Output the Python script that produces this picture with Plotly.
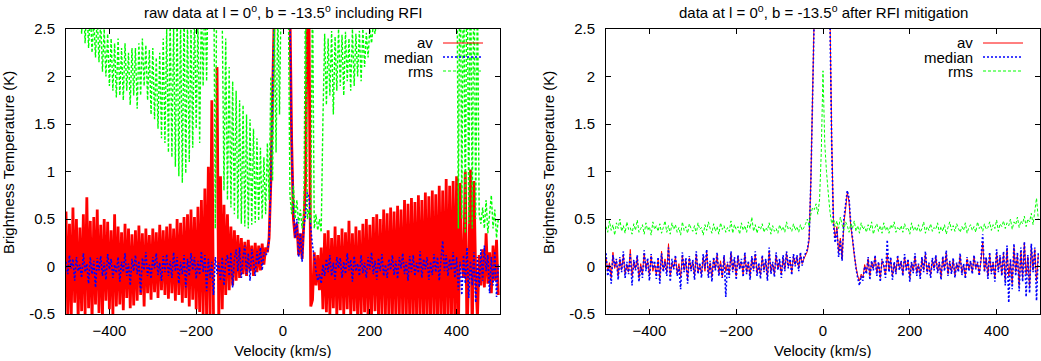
import plotly.graph_objects as go

# channel velocities (km/s), 4 km/s spacing
velocity = list(range(-500, 500, 4))

# raw spectrum incl. RFI
raw_av = [
    0.58, -0.52, 0.45, -0.55, 0.62, -0.38, 0.5, -0.56, 0.41, -0.47,
    0.55, -0.5, 0.73, -0.44, 0.48, -0.58, 0.52, -0.4, 0.6, -0.49,
    0.44, -0.52, 0.5, -0.36, 0.47, -0.45, 0.38, -0.5, 0.55, -0.42,
    0.42, -0.4, 0.36, -0.46, 0.45, -0.33, 0.4, -0.44, 0.34, -0.41,
    0.38, -0.36, 0.43, -0.3, 0.35, -0.42, 0.4, -0.28, 0.33, -0.35,
    0.4, -0.27, 0.36, -0.33, 0.44, -0.25, 0.38, -0.3, 0.42, -0.34,
    0.45, -0.28, 0.4, -0.36, 0.5, -0.3, 0.46, -0.38, 0.52, -0.33,
    0.55, -0.42, 0.6, -0.35, 0.52, -0.45, 0.63, -0.48, 0.7, -0.5,
    0.82, -0.55, 1.05, -0.55, 1.75, -0.6, None, 2.1, -0.6, 0.95,
    -0.45, 0.65, -0.3, 0.55, -0.25, 0.42, -0.2, 0.38, -0.15, 0.33,
    -0.12, 0.3, -0.08, 0.26, -0.1, 0.28, -0.05, 0.22, -0.1, 0.25,
    -0.06, 0.22, -0.04, 0.24, 0.02, 0.2, 0.15, 0.3, 0.9, 1.8,
    2.7, 3.6, 4.5, 5.2, 5.6, 5.5, 5.0, 4.2, 3.4, 2.7,
    1.3, 0.5, 0.3, 0.45, 0.12, 0.35, 0.08, 0.45, 0.9, 2.7,
    2.6, -0.42, -0.35, 0.15, -0.2, 0.12, -0.25, 0.2, -0.45, 0.35,
    -0.48, 0.38, -0.5, 0.3, -0.44, 0.42, -0.52, 0.33, -0.46, 0.4,
    -0.5, 0.36, -0.45, 0.48, -0.52, 0.35, -0.47, 0.42, -0.55, 0.38,
    -0.5, 0.45, -0.48, 0.5, -0.56, 0.44, -0.5, 0.52, -0.47, 0.55,
    -0.55, 0.5, -0.52, 0.6, -0.5, 0.56, -0.58, 0.62, -0.53, 0.58,
    -0.56, 0.64, -0.5, 0.6, -0.58, 0.7, -0.55, 0.66, -0.6, 0.72,
    -0.57, 0.68, -0.6, 0.75, -0.55, 0.7, -0.62, 0.78, -0.58, 0.74,
    -0.6, 0.8, -0.57, 0.76, -0.62, 0.85, -0.6, 0.8, -0.65, 0.92,
    -0.58, 0.85, -0.62, 0.9, -0.6, 0.95, -0.8, 0.88, 0.05, -0.12,
    1.0, -0.8, 0.02, 1.02, -0.8, 0.9, -0.1, -0.55, 0.12, -0.2,
    0.18, -0.22, 0.35, -0.18, 0.15, -0.28, 0.22, -0.15, 0.28, -0.3,
]
raw_median = [
    0.05, -0.08, 0.12, -0.02, 0.08, -0.15, 0.1, -0.05, 0.02, -0.12,
    0.14, -0.06, 0.03, -0.18, 0.1, -0.08, 0.06, -0.22, 0.09, -0.04,
    0.11, -0.1, 0.04, -0.14, 0.13, -0.03, 0.08, -0.12, 0.02, -0.07,
    0.1, -0.16, 0.05, -0.06, 0.14, -0.1, 0.03, -0.2, 0.08, -0.05,
    0.12, -0.08, 0.06, -0.28, 0.09, -0.04, 0.15, -0.1, 0.02, -0.13,
    0.1, -0.02, 0.14, -0.09, 0.04, -0.15, 0.11, -0.06, 0.13, -0.1,
    0.06, -0.12, 0.15, -0.05, 0.1, -0.18, 0.05, -0.08, 0.12, -0.22,
    0.08, -0.1, 0.14, -0.04, 0.1, -0.13, 0.06, -0.09, 0.16, -0.06,
    0.12, -0.26, 0.08, -0.12, 0.05, -0.3, 0.1, -0.08, 0.04, -0.15,
    0.1, -0.2, 0.05, 0.12, -0.1, 0.15, -0.22, 0.08, 0.18, -0.05,
    0.2, -0.12, 0.1, 0.22, -0.08, 0.14, -0.15, 0.18, 0.05, -0.1,
    0.16, 0.02, 0.2, -0.04, 0.15, 0.12, 0.14, 0.28, 0.88, 1.8,
    2.68, 3.55, 4.4, 5.1, 5.5, 5.45, 4.95, 4.15, 3.35, 2.65,
    1.25, 0.6, 0.3, 0.5, 0.1, 0.35, 0.05, 0.42, 0.55, 0.78,
    0.72, 0.4, 0.22, 0.1, -0.05, -0.15, -0.08, -0.18, 0.02, -0.1,
    0.08, -0.06, 0.12, -0.1, 0.04, -0.14, 0.1, -0.02, 0.09, -0.12,
    0.05, -0.08, 0.14, -0.04, 0.07, -0.16, 0.11, -0.05, 0.03, -0.1,
    0.12, -0.07, 0.04, -0.12, 0.1, -0.03, 0.15, -0.08, 0.06, -0.14,
    0.09, -0.05, 0.13, -0.1, 0.02, -0.12, 0.08, -0.04, 0.12, -0.09,
    0.06, -0.13, 0.1, -0.02, 0.14, -0.08, 0.05, -0.15, 0.11, -0.06,
    0.12, -0.1, 0.04, -0.07, 0.16, -0.12, 0.08, -0.03, 0.1, -0.14,
    0.05, -0.09, 0.13, -0.06, 0.1, -0.15, 0.07, 0.27, -0.05, 0.12,
    -0.1, 0.08, -0.04, 0.15, -0.12, 0.1, -0.25, 0.05, -0.3, 0.12,
    -0.18, 0.2, -0.33, 0.06, -0.2, 0.15, -0.38, 0.1, -0.22, 0.18,
    -0.15, 0.22, -0.05, 0.12, -0.28, 0.1, -0.2, 0.16, -0.32, 0.02,
]
raw_rms = [
    3.4, 3.1, 3.6, 3.0, 3.3, 2.9, 3.2, 2.8, 3.0, 2.45,
    2.9, 2.35, 2.8, 2.3, 2.7, 2.25, 2.6, 2.2, 2.65, 2.15,
    2.6, 2.05, 2.5, 2.0, 2.45, 1.9, 2.4, 1.85, 2.35, 1.78,
    2.4, 1.8, 2.3, 1.75, 2.35, 1.85, 2.25, 1.7, 2.3, 1.8,
    2.3, 1.66, 2.35, 1.8, 2.4, 1.9, 2.33, 1.75, 2.28, 1.6,
    2.3, 1.55, 2.2, 1.45, 2.25, 1.35, 2.4, 1.3, 2.5, 1.2,
    2.6, 1.15, 2.55, 1.05, 2.7, 0.95, 2.6, 0.88, 2.7, 0.98,
    2.6, 1.1, 2.55, 1.25, 2.7, 1.45, 2.6, 1.3, 2.8, 1.9,
    3.0, 1.95, 3.2, 2.6, 3.4, 3.5, 0.4, 3.6, 3.3, 2.9,
    2.6, 0.8, 2.4, 0.7, 2.1, 0.62, 1.95, 0.55, 1.85, 0.5,
    1.75, 0.45, 1.7, 0.42, 1.6, 0.4, 1.55, 0.44, 1.45, 0.46,
    1.35, 0.48, 1.25, 0.5, 1.15, 0.55, 1.3, 0.7, 2.0, 0.9,
    2.6, 1.2, 2.7, 1.6, 3.0, 3.3, 3.1, 2.9, 3.0, 0.75,
    0.55, 0.85, 0.5, 0.7, 0.45, 0.6, 0.4, 0.55, 3.0, 0.5,
    0.6, 0.45, 3.0, 0.4, 0.55, 0.38, 0.5, 0.36, 1.55, 2.45,
    1.7, 2.4, 1.8, 2.48, 1.6, 2.42, 1.85, 2.5, 1.9, 2.44,
    1.8, 2.47, 1.95, 2.4, 1.85, 2.5, 1.9, 2.45, 2.0, 2.48,
    1.95, 2.5, 2.1, 2.46, 2.2, 2.5, 2.35, 2.55, 2.45, 2.6,
    2.5, 3.0, 2.6, 3.1, 2.8, 3.3, 3.0, 3.5, 3.2, 3.7,
    3.3, 3.9, 3.5, 4.0, 3.4, 3.8, 3.6, 4.1, 3.5, 3.9,
    3.7, 4.0, 3.6, 4.2, 3.8, 4.1, 3.7, 4.3, 3.9, 4.2,
    3.8, 4.4, 4.0, 4.3, 3.9, 4.5, 4.1, 4.4, 4.0, 4.6,
    4.2, 4.5, 4.0, 4.6, 3.8, 4.0, 0.4, 3.8, 0.5, 3.5,
    0.35, 3.6, 0.45, 3.5, 0.4, 3.4, 0.5, 3.0, 0.55, 0.45,
    0.62, 0.4, 0.7, 0.35, 0.55, 0.75, 0.4, 0.6, 0.3, 0.5,
]

# spectrum after RFI mitigation
clean_av = [
    0.1, -0.05, 0.04, -0.12, 0.15, -0.02, 0.06, -0.1, 0.08, -0.04,
    0.12, -0.08, 0.02, -0.06, 0.18, -0.1, 0.05, -0.03, 0.1, -0.12,
    0.03, -0.08, 0.14, -0.02, 0.06, -0.1, 0.11, -0.05, 0.02, -0.09,
    0.07, -0.12, 0.16, -0.04, 0.08, -0.06, 0.24, -0.1, 0.04, -0.02,
    0.1, -0.07, 0.03, -0.11, 0.12, -0.04, 0.06, -0.13, 0.09, -0.03,
    0.05, -0.1, 0.13, -0.06, 0.02, -0.08, 0.1, -0.05, 0.15, -0.09,
    0.04, -0.11, 0.08, -0.03, 0.12, -0.07, 0.06, -0.12, 0.1, -0.05,
    0.03, -0.09, 0.14, -0.04, 0.07, -0.1, 0.11, -0.02, 0.05, -0.08,
    0.12, -0.06, 0.04, -0.1, 0.09, -0.03, 0.13, -0.07, 0.02, -0.09,
    0.1, -0.04, 0.06, -0.11, 0.15, -0.05, 0.03, -0.08, 0.12, -0.02,
    0.05, -0.08, 0.09, -0.03, 0.14, 0.0, 0.07, -0.06, 0.11, 0.02,
    0.1, -0.02, 0.13, 0.03, 0.08, 0.12, 0.16, 0.28, 0.9, 1.8,
    2.72, 3.6, 4.5, 5.2, 5.6, 5.5, 5.0, 4.2, 3.4, 2.7,
    1.35, 0.5, 0.3, 0.42, 0.15, 0.3, 0.08, 0.45, 0.6, 0.78,
    0.68, 0.42, 0.28, 0.12, 0.0, -0.1, -0.15, -0.08, -0.12, 0.02,
    -0.06, 0.08, -0.1, 0.05, -0.02, 0.1, -0.07, 0.04, -0.12, 0.06,
    0.0, -0.09, 0.12, -0.04, 0.07, -0.1, 0.03, -0.06, 0.09, -0.02,
    0.05, -0.08, 0.1, -0.03, 0.06, -0.12, 0.04, -0.05, 0.11, -0.07,
    0.02, -0.1, 0.08, -0.04, 0.13, -0.06, 0.03, -0.09, 0.07, -0.02,
    0.1, -0.05, 0.04, -0.11, 0.09, -0.03, 0.14, -0.08, 0.05, -0.06,
    0.07, -0.09, 0.03, -0.04, 0.11, -0.07, 0.02, -0.1, 0.08, -0.03,
    0.05, -0.06, 0.1, -0.02, 0.04, -0.08, 0.06, 0.25, -0.05, 0.09,
    -0.1, 0.12, -0.06, 0.04, -0.12, 0.15, -0.04, 0.1, -0.08, 0.14,
    -0.14, 0.18, -0.1, 0.05, -0.18, 0.2, -0.06, 0.12, -0.2, 0.16,
    -0.12, 0.25, -0.08, 0.1, -0.22, 0.22, -0.04, 0.18, -0.15, 0.12,
]
clean_median = [
    0.14, -0.1, 0.02, -0.18, 0.12, 0.0, 0.08, -0.14, 0.1, -0.06,
    0.16, -0.12, 0.05, -0.08, 0.13, -0.2, 0.07, -0.04, 0.12, -0.16,
    0.0, -0.12, 0.17, -0.05, 0.09, -0.15, 0.13, -0.02, 0.06, -0.13,
    0.1, -0.18, 0.14, -0.06, 0.05, -0.1, 0.2, -0.16, 0.08, -0.03,
    0.12, -0.1, 0.0, -0.24, 0.15, -0.06, 0.09, -0.18, 0.11, -0.05,
    0.07, -0.14, 0.16, -0.08, 0.04, -0.12, 0.13, -0.02, 0.18, -0.12,
    0.06, -0.16, 0.1, -0.04, 0.15, -0.1, 0.03, -0.12, 0.12, -0.32,
    0.05, -0.12, 0.16, -0.06, 0.1, -0.14, 0.12, -0.03, 0.08, -0.11,
    0.15, -0.08, 0.06, -0.14, 0.11, -0.05, 0.16, -0.1, 0.04, -0.13,
    0.12, -0.06, 0.08, -0.15, 0.2, -0.08, 0.05, -0.11, 0.15, -0.04,
    0.08, -0.12, 0.12, -0.05, 0.16, -0.02, 0.1, -0.09, 0.13, 0.0,
    0.12, -0.05, 0.15, 0.01, 0.1, 0.14, 0.18, 0.3, 0.88, 1.78,
    2.68, 3.55, 4.4, 5.1, 5.5, 5.45, 4.95, 4.15, 3.35, 2.65,
    1.3, 0.45, 0.25, 0.4, 0.1, 0.28, 0.06, 0.5, 0.65, 0.8,
    0.72, 0.45, 0.3, 0.14, -0.02, -0.12, -0.2, -0.1, -0.15, 0.0,
    -0.08, 0.1, -0.14, 0.06, -0.04, 0.12, -0.1, 0.05, -0.16, 0.08,
    0.02, -0.12, 0.28, -0.06, 0.1, -0.14, 0.05, -0.08, 0.12, -0.04,
    0.06, -0.1, 0.13, -0.05, 0.08, -0.16, 0.05, -0.07, 0.14, -0.1,
    0.03, -0.13, 0.1, -0.06, 0.16, -0.08, 0.04, -0.12, 0.09, -0.04,
    0.12, -0.07, 0.05, -0.14, 0.11, -0.05, 0.17, -0.1, 0.06, -0.08,
    0.09, -0.12, 0.04, -0.06, 0.14, -0.09, 0.03, -0.13, 0.1, -0.05,
    0.06, -0.08, 0.12, -0.03, 0.05, -0.1, 0.08, 0.34, -0.06, 0.1,
    -0.13, 0.15, -0.08, 0.05, -0.16, 0.18, -0.06, 0.12, -0.1, 0.16,
    -0.2, 0.22, -0.38, 0.08, -0.24, 0.24, -0.1, 0.15, -0.26, 0.2,
    -0.16, 0.26, -0.32, 0.12, -0.28, 0.24, -0.06, 0.2, -0.36, 0.14,
]
clean_rms = [
    0.42, 0.36, 0.48, 0.38, 0.44, 0.33, 0.46, 0.4, 0.5, 0.37,
    0.43, 0.35, 0.47, 0.39, 0.41, 0.34, 0.45, 0.38, 0.49, 0.36,
    0.4, 0.44, 0.34, 0.46, 0.38, 0.42, 0.33, 0.47, 0.39, 0.43,
    0.37, 0.45, 0.35, 0.41, 0.48, 0.36, 0.43, 0.34, 0.46, 0.39,
    0.44, 0.36, 0.41, 0.33, 0.47, 0.38, 0.42, 0.35, 0.45, 0.4,
    0.37, 0.43, 0.34, 0.46, 0.39, 0.41, 0.33, 0.44, 0.38, 0.47,
    0.4, 0.35, 0.45, 0.37, 0.42, 0.34, 0.46, 0.39, 0.43, 0.36,
    0.41, 0.37, 0.48, 0.35, 0.44, 0.39, 0.42, 0.34, 0.46, 0.38,
    0.43, 0.36, 0.47, 0.4, 0.52, 0.37, 0.44, 0.35, 0.42, 0.39,
    0.45, 0.36, 0.41, 0.38, 0.46, 0.34, 0.43, 0.37, 0.4, 0.35,
    0.44, 0.38, 0.42, 0.36, 0.47, 0.39, 0.41, 0.37, 0.45, 0.38,
    0.42, 0.36, 0.44, 0.38, 0.41, 0.45, 0.5, 0.42, 0.55, 0.62,
    0.6, 0.66, 0.55, 0.7, 1.2, 2.06, 1.3, 1.0, 0.78, 0.58,
    0.45, 0.5, 0.42, 0.48, 0.4, 0.52, 0.44, 0.38, 0.47, 0.43,
    0.36, 0.45, 0.4, 0.48, 0.37, 0.43, 0.35, 0.46, 0.39, 0.42,
    0.36, 0.44, 0.38, 0.47, 0.34, 0.41, 0.45, 0.37, 0.43, 0.35,
    0.46, 0.38, 0.42, 0.35, 0.44, 0.4, 0.47, 0.36, 0.41, 0.38,
    0.43, 0.36, 0.45, 0.39, 0.41, 0.34, 0.46, 0.38, 0.42, 0.37,
    0.44, 0.36, 0.4, 0.47, 0.35, 0.42, 0.38, 0.45, 0.37, 0.41,
    0.39, 0.46, 0.35, 0.42, 0.37, 0.44, 0.34, 0.41, 0.47, 0.38,
    0.43, 0.37, 0.45, 0.4, 0.36, 0.42, 0.38, 0.46, 0.35, 0.41,
    0.44, 0.38, 0.42, 0.36, 0.47, 0.4, 0.43, 0.37, 0.45, 0.39,
    0.41, 0.47, 0.38, 0.44, 0.4, 0.49, 0.37, 0.45, 0.42, 0.48,
    0.4, 0.46, 0.43, 0.5, 0.39, 0.47, 0.44, 0.52, 0.41, 0.48,
    0.45, 0.53, 0.42, 0.5, 0.47, 0.56, 0.44, 0.58, 0.72, 0.5,
]

titles = [
    "raw data at l = 0<sup>o</sup>, b = -13.5<sup>o</sup> including RFI",
    "data at l = 0<sup>o</sup>, b = -13.5<sup>o</sup> after RFI mitigation",
]
series_names = ["av", "median", "rms"]
x_ticks = [-400, -200, 0, 200, 400]
y_ticks = [-0.5, 0, 0.5, 1, 1.5, 2, 2.5]
y_tick_text = ["-0.5", "0", "0.5", "1", "1.5", "2", "2.5"]

W, H = 1041, 361
FONT = "Liberation Sans, Arial, sans-serif"
FS = 15
styles = [
    dict(color="#ff0000", width=1),
    dict(color="#0000ff", width=1.6, dash="2px,2px"),
    dict(color="#00ff00", width=1, dash="3px,2px"),
]
# the raw panel has far more channels than our list; thicker strokes fill it
red_width = [2.8, 1.0]
green_width = [1.4, 1.0]

# panel frames in pixels: (left, right)
panels_px = [(66, 500), (606, 1040)]
top_px, bottom_px = 29, 314


def px_x(p):
    return p / W


def px_y(p):
    return 1 - p / H


fig = go.Figure()
datasets = [(raw_av, raw_median, raw_rms), (clean_av, clean_median, clean_rms)]
for i, data in enumerate(datasets):
    sfx = "" if i == 0 else "2"
    for k, (name, vals, st) in enumerate(zip(series_names, data, styles)):
        line = dict(st, simplify=False)
        if k == 0:
            line["width"] = red_width[i]
        if k == 2:
            line["width"] = green_width[i]
        fig.add_trace(go.Scatter(
            x=velocity, y=vals, mode="lines", name=name, line=line,
            xaxis="x" + sfx, yaxis="y" + sfx, showlegend=False,
            hoverinfo="skip",
        ))

axis_common = dict(
    showline=True, linecolor="black", linewidth=1, mirror="ticks",
    ticks="inside", ticklen=5, tickcolor="black", showgrid=False,
    zeroline=False, automargin=False,
    tickfont=dict(family=FONT, size=FS, color="black"),
)
layout = dict(
    width=W, height=H, autosize=False,
    margin=dict(l=0, r=0, t=0, b=0, pad=0, autoexpand=False),
    plot_bgcolor="white", paper_bgcolor="white", showlegend=False,
    font=dict(family=FONT, size=FS, color="black"),
)
annotations = []
shapes = []
for i, (l, r) in enumerate(panels_px):
    sfx = "" if i == 0 else "2"
    layout["xaxis" + sfx] = dict(
        axis_common, domain=[px_x(l), px_x(r)], range=[-500, 500],
        tickvals=x_ticks, ticklabelstandoff=3, anchor="y" + sfx,
    )
    layout["yaxis" + sfx] = dict(
        axis_common, domain=[px_y(bottom_px), px_y(top_px)], range=[-0.5, 2.5],
        tickvals=y_ticks, ticktext=y_tick_text, ticklabelstandoff=7,
        anchor="x" + sfx,
    )
    cx = (l + r) / 2
    annotations.append(dict(
        text=titles[i], x=px_x(cx), y=px_y(11), xref="paper", yref="paper",
        showarrow=False, xanchor="center", yanchor="middle",
        font=dict(family=FONT, size=FS),
    ))
    annotations.append(dict(
        text="Velocity (km/s)", x=px_x(cx), y=px_y(350), xref="paper",
        yref="paper", showarrow=False, xanchor="center", yanchor="middle",
        height=16, font=dict(family=FONT, size=FS),
    ))
    annotations.append(dict(
        text="Brightness Temperature (K)", x=px_x(l - 58), y=px_y(163),
        xref="paper", yref="paper", showarrow=False, textangle=-90,
        xanchor="center", yanchor="middle", font=dict(family=FONT, size=FS),
    ))
    # legend: text right-aligned, sample line to its right
    for j, (name, st) in enumerate(zip(series_names, styles)):
        ly = 43 + 14 * j
        annotations.append(dict(
            text=name, x=px_x(r - 66), y=px_y(ly), xref="paper", yref="paper",
            showarrow=False, xanchor="right", yanchor="middle",
            borderpad=0, font=dict(family=FONT, size=FS),
        ))
        shapes.append(dict(
            type="line", xref="paper", yref="paper",
            x0=px_x(r - 57), x1=px_x(r - 17), y0=px_y(ly), y1=px_y(ly),
            line=st,
        ))

layout["annotations"] = annotations
layout["shapes"] = shapes
fig.update_layout(**layout)

# drop the default page margin so the figure sits at the window origin
fig.write_html(
    "out.html",
    config={"displayModeBar": False},
    post_script="document.body.style.margin='0';document.body.style.overflow='hidden';",
)
